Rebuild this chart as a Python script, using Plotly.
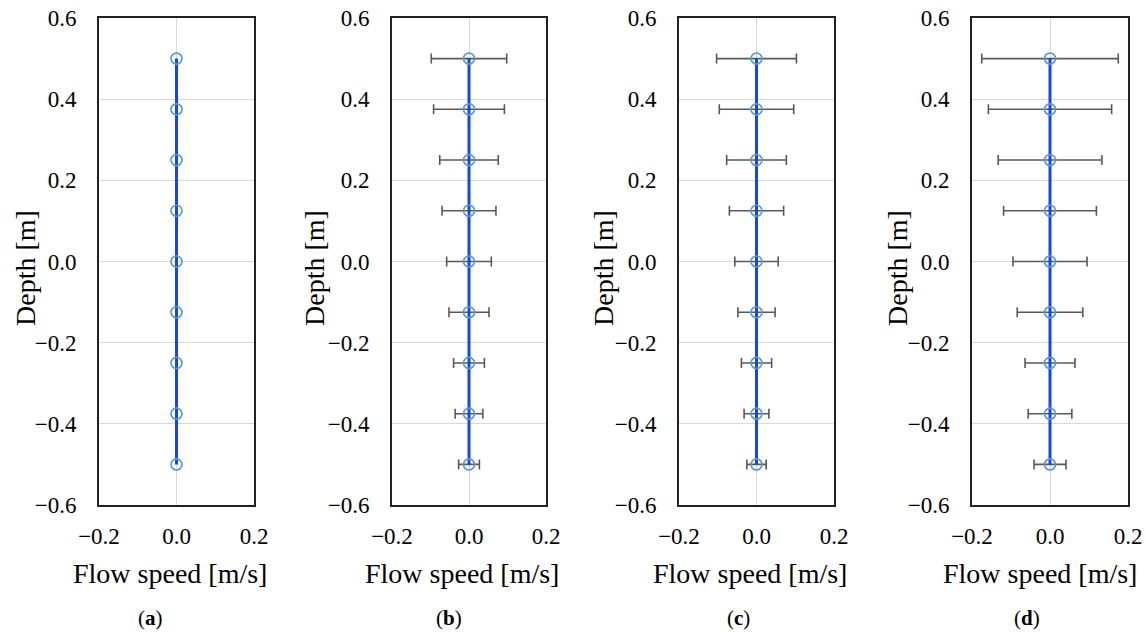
import plotly.graph_objects as go

# ---- data ----
depth = [0.5, 0.375, 0.25, 0.125, 0.0, -0.125, -0.25, -0.375, -0.5]
speed_a = [0.0, 0.0, 0.0, 0.0, 0.0, 0.0, 0.0, 0.0, 0.0]
speed_b = [0.0, 0.0, 0.0, 0.0, 0.0, 0.0, 0.0, 0.0, 0.0]
speed_c = [0.0, 0.0, 0.0, 0.0, 0.0, 0.0, 0.0, 0.0, 0.0]
speed_d = [0.0, 0.0, 0.0, 0.0, 0.0, 0.0, 0.0, 0.0, 0.0]
err_b = [0.098, 0.092, 0.076, 0.070, 0.058, 0.052, 0.040, 0.036, 0.027]
err_c = [0.103, 0.096, 0.077, 0.070, 0.056, 0.048, 0.039, 0.032, 0.025]
err_d = [0.175, 0.158, 0.133, 0.119, 0.095, 0.084, 0.064, 0.056, 0.041]
panel_labels = ["a", "b", "c", "d"]
x_ticks = [-0.2, 0.0, 0.2]
y_ticks = [0.6, 0.4, 0.2, 0.0, -0.2, -0.4, -0.6]

W, H = 1146, 632
FONT = "Liberation Serif"

# plot-area pixel positions (left, right) per panel
panels_px = [(99, 254), (392, 546), (679, 834), (972, 1128)]
y_top_px, y_bot_px = 18, 505
ytitle_x = [25, 314, 603, 897]
xtitle_x = [170, 462, 750, 1040]
label_x = [150, 449, 739, 1027]

speeds = [speed_a, speed_b, speed_c, speed_d]
errs = [None, err_b, err_c, err_d]

fig = go.Figure()
layout = dict(
    width=W, height=H,
    margin=dict(l=0, r=0, t=0, b=0, autoexpand=False),
    paper_bgcolor="white", plot_bgcolor="white",
    showlegend=False,
    font=dict(family=FONT, color="black"),
)
annotations = []
ydom = [1 - y_bot_px / H, 1 - y_top_px / H]

for i in range(4):
    n = "" if i == 0 else str(i + 1)
    xa, ya = "x" + n, "y" + n
    tr = dict(
        x=speeds[i], y=depth, mode="lines+markers",
        line=dict(color="#1846e0", width=3),
        marker=dict(symbol="circle-open", size=11, color="#5b9bd5",
                    line=dict(width=1.7, color="#5b9bd5")),
        xaxis=xa, yaxis=ya, hoverinfo="skip",
    )
    if errs[i] is not None:
        tr["error_x"] = dict(type="data", array=errs[i], symmetric=True,
                             color="#595959", thickness=1.6, width=5)
    fig.add_trace(go.Scatter(**tr))
    l, r = panels_px[i]
    layout["xaxis" + n] = dict(
        domain=[l / W, r / W], anchor=ya, range=[-0.2, 0.2],
        tickvals=x_ticks, tickformat=".1f", automargin=False,
        showgrid=True, gridcolor="#d9d9d9", gridwidth=1,
        zeroline=False, showline=True, linecolor="#222", linewidth=1.6,
        mirror=True, ticks="", ticklabelstandoff=10,
        tickfont=dict(family=FONT, size=23, color="black"),
    )
    layout["yaxis" + n] = dict(
        domain=ydom, anchor=xa, range=[-0.6, 0.6],
        tickvals=y_ticks, tickformat=".1f", automargin=False,
        showgrid=True, gridcolor="#d9d9d9", gridwidth=1,
        zeroline=False, showline=True, linecolor="#222", linewidth=1.6,
        mirror=True, ticks="", ticklabelstandoff=16,
        tickfont=dict(family=FONT, size=23, color="black"),
    )
    annotations.append(dict(
        text="Depth [m]", x=ytitle_x[i] / W, y=1 - 268 / H,
        xref="paper", yref="paper", xanchor="center", yanchor="middle",
        textangle=-90, showarrow=False,
        font=dict(family=FONT, size=28, color="black"),
    ))
    annotations.append(dict(
        text="Flow speed [m/s]", x=xtitle_x[i] / W, y=1 - 573 / H,
        xref="paper", yref="paper", xanchor="center", yanchor="middle",
        showarrow=False, font=dict(family=FONT, size=28, color="black"),
    ))
    annotations.append(dict(
        text="(<b>" + panel_labels[i] + "</b>)", x=label_x[i] / W, y=1 - 618 / H,
        xref="paper", yref="paper", xanchor="center", yanchor="middle",
        showarrow=False, font=dict(family=FONT, size=21, color="black"),
    ))

layout["annotations"] = annotations
fig.update_layout(**layout)
fig.write_html("out.html")
